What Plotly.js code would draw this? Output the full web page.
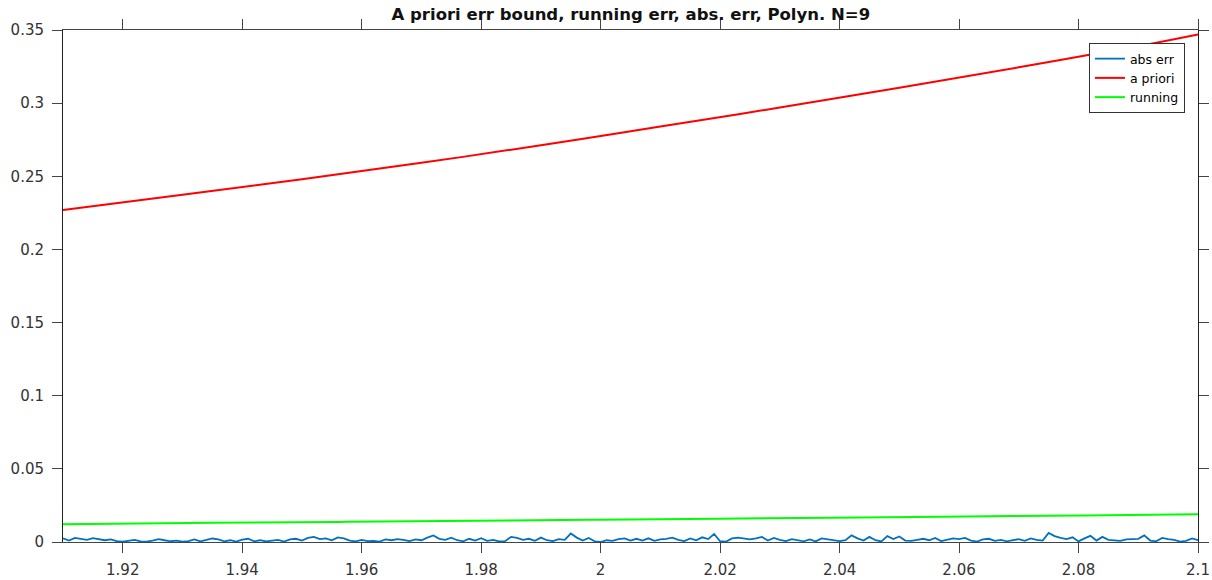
<!DOCTYPE html>
<html>
<head>
<meta charset="utf-8">
<script src="https://cdn.plot.ly/plotly-3.0.1.min.js"></script>
<style>html,body{margin:0;padding:0;background:#fff;}#chart{width:1212px;height:580px;}</style>
</head>
<body>
<div id="chart"></div>
<script>
// abs err: sampled on a regular grid from 1.910 to 2.100, step 0.001 (values x 1e-3)
const absErrStart = 1.91;
const absErrStep = 0.001;
const absErrMilli = [
  2.5,1.0,2.8,2.2,1.5,2.6,2.0,1.2,1.8,0.6, 0.2,0.8,1.5,0.4,0.3,1.0,2.0,1.2,0.5,0.9,
  0.3,0.6,1.8,0.4,1.5,2.4,1.8,0.5,1.2,0.3, 1.6,2.2,
  0.5,1.2,0.4,0.8,1.5,0.3,1.8,2.2,1.0,2.8, 3.5,2.0,2.5,1.2,3.2,2.5,1.0,0.4,1.5,0.6,
  0.8,0.3,1.8,1.2,2.0,1.4,0.6,1.8,1.2,3.0, 4.5,2.2,
  1.5,3.0,1.2,0.5,2.2,1.0,2.6,0.8,1.5,0.4, 0.6,3.5,2.8,1.5,2.2,0.8,3.0,1.2,0.6,2.0,
  1.5,5.8,3.0,1.0,2.8,0.5,0.0,1.2,0.8,2.0, 2.5,1.0,
  2.2,1.0,2.5,0.8,1.8,2.2,3.0,1.5,0.6,2.4, 1.2,3.2,2.0,5.5,0.5,0.3,2.5,3.0,2.2,1.8,
  2.5,3.5,1.0,2.8,1.5,0.6,2.0,1.2,0.5,1.8, 0.4,2.5,
  2.0,1.0,0.6,1.2,4.5,2.5,1.0,3.5,1.2,0.4, 4.0,2.0,3.8,1.0,0.8,1.5,2.2,1.2,2.8,0.6,
  1.8,2.5,2.0,2.8,1.0,0.3,1.8,2.2,0.8,1.5, 0.5,1.2,
  2.0,0.8,2.5,1.5,1.0,6.2,4.0,2.8,2.0,3.2, 0.4,2.5,4.2,1.0,3.5,1.5,1.2,0.8,1.8,2.0,
  2.2,4.5,1.0,0.5,2.8,2.0,1.5,0.3,0.8,2.5, 1.2
];

// a priori bound
const aprioriX = [1.91, 1.93, 1.95, 1.97, 1.99, 2.00, 2.01, 2.03, 2.05, 2.07, 2.09, 2.10];
const aprioriY = [0.227, 0.2373, 0.2480, 0.2592, 0.2712, 0.2776, 0.2840, 0.2970, 0.3105, 0.3245, 0.3390, 0.3470];

// running err
const runningX = [1.91, 1.9351, 1.9577, 1.9793, 1.9997, 2.0196, 2.0387, 2.0571, 2.0747, 2.0923, 2.10];
const runningY = [0.0122, 0.0131, 0.0138, 0.0145, 0.0152, 0.0159, 0.0166, 0.0173, 0.0179, 0.0186, 0.0190];

const xTickVals = [1.92, 1.94, 1.96, 1.98, 2.00, 2.02, 2.04, 2.06, 2.08, 2.10];
const xTickText = ['1.92', '1.94', '1.96', '1.98', '2', '2.02', '2.04', '2.06', '2.08', '2.1'];
const yTickVals = [0, 0.05, 0.1, 0.15, 0.2, 0.25, 0.3, 0.35];
const yTickText = ['0', '0.05', '0.1', '0.15', '0.2', '0.25', '0.3', '0.35'];

const absErrX = absErrMilli.map((v, i) => +(absErrStart + i * absErrStep).toFixed(3));
const absErrY = absErrMilli.map(v => v / 1000);

const traces = [
  {x: absErrX, y: absErrY, type: 'scatter', mode: 'lines', name: 'abs err',
   line: {color: '#0072BD', width: 1.8}},
  {x: aprioriX, y: aprioriY, type: 'scatter', mode: 'lines', name: 'a priori',
   line: {color: '#FF0000', width: 2, shape: 'spline'}},
  {x: runningX, y: runningY, type: 'scatter', mode: 'lines', name: 'running',
   line: {color: '#00FF00', width: 2, shape: 'spline'}}
];

const fontFam = '"DejaVu Sans", "Liberation Sans", sans-serif';
const layout = {
  width: 1212, height: 580,
  margin: {l: 63, r: 14, t: 30, b: 38},
  paper_bgcolor: '#fff', plot_bgcolor: '#fff',
  font: {family: fontFam, size: 15, color: '#333'},
  title: {text: '<b>A priori err bound, running err, abs. err, Polyn. N=9</b>',
          font: {family: fontFam, size: 16.5, color: '#111'},
          x: 0.5205, xref: 'container', y: 0.975, yref: 'container', yanchor: 'middle'},
  xaxis: {range: [1.91, 2.1], tickvals: xTickVals, ticktext: xTickText,
          showgrid: false, zeroline: false, showline: true, mirror: 'ticks',
          linecolor: '#444', linewidth: 1, ticks: 'outside', ticklen: 10, tickcolor: '#444',
          ticklabelstandoff: 4,
          tickfont: {size: 15, color: '#333'}},
  yaxis: {range: [0, 0.35], tickvals: yTickVals, ticktext: yTickText,
          showgrid: false, zeroline: false, showline: true, mirror: 'ticks',
          linecolor: '#222', linewidth: 1, ticks: 'outside', ticklen: 10, tickcolor: '#444',
          ticklabelstandoff: 5,
          tickfont: {size: 15, color: '#333'}},
  showlegend: true,
  legend: {x: 0.9885, xanchor: 'right', y: 0.9746, yanchor: 'top',
           bgcolor: '#fff', bordercolor: '#333', borderwidth: 1,
           font: {family: fontFam, size: 12.5, color: '#000'},
           itemwidth: 30, tracegroupgap: 0}
};

Plotly.newPlot('chart', traces, layout, {displayModeBar: false, staticPlot: true});
</script>
</body>
</html>
